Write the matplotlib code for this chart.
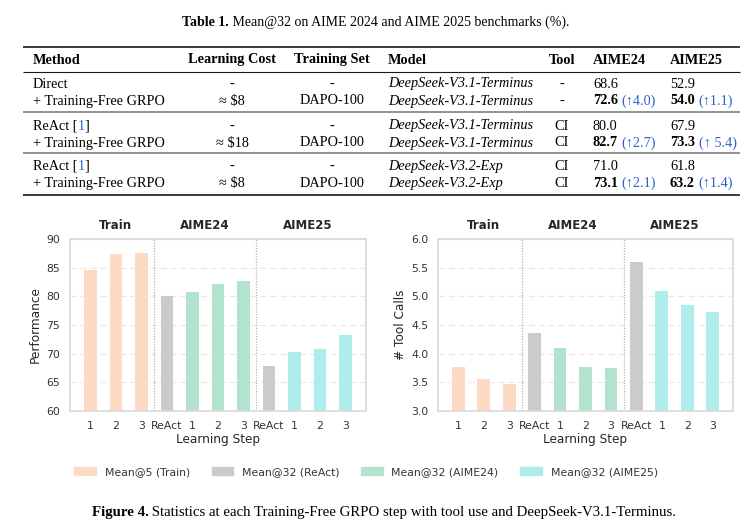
import matplotlib
matplotlib.use('Agg')
import matplotlib.pyplot as plt
import numpy as np
from matplotlib.patches import Patch

# ---------------- data ----------------
headers = ['Method', 'Learning Cost', 'Training Set', 'Model', 'Tool', 'AIME24', 'AIME25']
methods = ['Direct', '+ Training-Free GRPO', 'ReAct', '+ Training-Free GRPO', 'ReAct', '+ Training-Free GRPO']
cites = [None, None, '1', None, '1', None]
costs = ['-', '≈ $8', '-', '≈ $18', '-', '≈ $8']
train_sets = ['-', 'DAPO-100', '-', 'DAPO-100', '-', 'DAPO-100']
models = ['DeepSeek-V3.1-Terminus', 'DeepSeek-V3.1-Terminus', 'DeepSeek-V3.1-Terminus',
          'DeepSeek-V3.1-Terminus', 'DeepSeek-V3.2-Exp', 'DeepSeek-V3.2-Exp']
tools = ['-', '-', 'CI', 'CI', 'CI', 'CI']
aime24 = ['68.6', '72.6', '80.0', '82.7', '71.0', '73.1']
aime24_gain = [None, '(↑4.0)', None, '(↑2.7)', None, '(↑2.1)']
aime25 = ['52.9', '54.0', '67.9', '73.3', '61.8', '63.2']
aime25_gain = [None, '(↑1.1)', None, '(↑ 5.4)', None, '(↑1.4)']

groups = ['Train', 'AIME24', 'AIME25']
tick_labels = ['1', '2', '3', 'ReAct', '1', '2', '3', 'ReAct', '1', '2', '3']
train_perf = [84.6, 87.4, 87.6]
react_perf = [80.0, 67.9]
aime24_perf = [80.8, 82.2, 82.7]
aime25_perf = [70.3, 70.9, 73.3]
train_calls = [3.77, 3.56, 3.47]
react_calls = [4.36, 5.60]
aime24_calls = [4.10, 3.77, 3.75]
aime25_calls = [5.10, 4.85, 4.73]
legend_labels = ['Mean@5 (Train)', 'Mean@32 (ReAct)', 'Mean@32 (AIME24)', 'Mean@32 (AIME25)']

# ---------------- style ----------------
C_TRAIN, C_REACT, C_24, C_25 = '#fddac6', '#cbcbcb', '#b3e2cd', '#afeded'
SERIF = ['Liberation Serif', 'DejaVu Serif']
FS = 10.3
BLUE = '#2a62d0'
TXT = '#262626'

W, H = 753, 529
fig = plt.figure(figsize=(W / 100, H / 100), dpi=100)
bg = fig.add_axes([0, 0, 1, 1])
bg.set_xlim(0, W)
bg.set_ylim(H, 0)
bg.axis('off')


def txt(x, y, s, ha='left', **kw):
    kw.setdefault('fontsize', FS)
    kw.setdefault('family', SERIF)
    return bg.text(x, y, s, ha=ha, va='baseline', **kw)


def chain(prev, y, s, gap=0.0, **kw):
    kw.setdefault('fontsize', FS)
    kw.setdefault('family', SERIF)
    return bg.annotate(s, xy=(1, y), xycoords=(prev, 'data'), xytext=(gap, 0),
                       textcoords='offset points', ha='left', va='baseline', **kw)


# ---------------- table ----------------
t_title = [txt(188, 26, 'Table 1.', fontweight='bold', fontsize=10.0)]
t_title.append(chain(t_title[0], 26, ' Mean@32 on AIME 2024 and AIME 2025 benchmarks (%).', fontsize=10.0))

tab_l, tab_r = 23, 740
for yy, lw, c in [(47, 1.2, '#1a1a1a'), (72, 0.8, '#1a1a1a'), (112, 1.3, '#8a8a8a'),
                  (153, 1.3, '#8a8a8a'), (195, 1.2, '#1a1a1a')]:
    bg.plot([tab_l, tab_r], [yy, yy], color=c, lw=lw, solid_capstyle='butt')

col_x = [33, 232, 332, 388, 562, 593, 670]
col_ha = ['left', 'center', 'center', 'left', 'center', 'left', 'left']
hy = 63.5
for h, x, ha in zip(headers, col_x, col_ha):
    txt(x, hy, h, ha=ha, fontweight='bold')

row_y = [87.5, 104.5, 129.5, 146.5, 170, 187]
for i, y in enumerate(row_y):
    t = txt(col_x[0], y, methods[i] + (' [' if cites[i] else ''))
    if cites[i]:
        t2 = chain(t, y, cites[i], color=BLUE)
        chain(t2, y, ']')
    txt(col_x[1], y, costs[i], ha='center')
    txt(col_x[2], y, train_sets[i], ha='center')
    txt(col_x[3], y, models[i], style='italic')
    txt(col_x[4], y, tools[i], ha='center')
    bold = 'bold' if aime24_gain[i] else 'normal'
    a = txt(col_x[5], y, aime24[i], fontweight=bold)
    if aime24_gain[i]:
        chain(a, y, aime24_gain[i], gap=2.6, color=BLUE)
    b = txt(col_x[6], y, aime25[i], fontweight=bold)
    if aime25_gain[i]:
        chain(b, y, aime25_gain[i], gap=2.6, color=BLUE)

# ---------------- charts ----------------
perf = train_perf + [react_perf[0]] + aime24_perf + [react_perf[1]] + aime25_perf
calls = train_calls + [react_calls[0]] + aime24_calls + [react_calls[1]] + aime25_calls
colors = ([C_TRAIN] * len(train_perf) + [C_REACT] + [C_24] * len(aime24_perf)
          + [C_REACT] + [C_25] * len(aime25_perf))
group_sizes = [len(train_perf), 1 + len(aime24_perf), 1 + len(aime25_perf)]


def panel(ax, vals, ylim, ystep, ylabel, fmt):
    x = np.arange(len(vals))
    ax.bar(x, vals, width=0.5, color=colors, zorder=2)
    ax.set_xlim(-0.8, len(vals) - 0.2)
    ax.set_ylim(*ylim)
    ax.set_yticks(np.arange(ylim[0], ylim[1] + ystep / 2, ystep))
    ax.yaxis.set_major_formatter(matplotlib.ticker.FormatStrFormatter(fmt))
    ax.set_xticks(x)
    ax.set_xticklabels(tick_labels)
    ax.set_axisbelow(True)
    ax.yaxis.grid(True, ls=(0, (5, 3)), color='#e8e8e8', lw=0.9)
    for s in ax.spines.values():
        s.set_color('#d9d9d9')
        s.set_linewidth(1.2)
    ax.tick_params(length=0, pad=7, labelsize=7.8, labelcolor='#333333')
    ax.set_xlabel('Learning Step', fontsize=8.7, color=TXT, labelpad=2)
    ax.set_ylabel(ylabel, fontsize=8.7, color=TXT, labelpad=3)
    start = 0
    for gi, (g, n) in enumerate(zip(groups, group_sizes)):
        center = start + (n - 1) / 2
        ax.annotate(g, xy=(center, 1), xycoords=('data', 'axes fraction'), xytext=(0, 9.4),
                    textcoords='offset points', ha='center', va='center',
                    fontweight='bold', fontsize=8.5, color=TXT)
        start += n
        if gi < len(groups) - 1:
            ax.axvline(start - 0.5, color='#b5b5b5', ls=(0, (1, 1.2)), lw=0.9, zorder=1)


ax1 = fig.add_axes([70 / W, 1 - 411 / H, 296 / W, 172 / H])
ax2 = fig.add_axes([438 / W, 1 - 411 / H, 295 / W, 172 / H])
panel(ax1, perf, (60, 90), 5, 'Performance', '%d')
panel(ax2, calls, (3.0, 6.0), 0.5, '# Tool Calls', '%.1f')

handles = [Patch(color=c) for c in [C_TRAIN, C_REACT, C_24, C_25]]
fig.legend(handles, legend_labels, ncol=4, loc='center', bbox_to_anchor=(366 / W, 1 - 472 / H),
           frameon=False, fontsize=7.8, handlelength=2.0, handleheight=0.7,
           columnspacing=2.0, handletextpad=0.8, labelcolor='#333333')

cap = [txt(92, 516, 'Figure 4.', fontweight='bold', fontsize=10.75)]
cap.append(chain(cap[0], 516, ' Statistics at each Training-Free GRPO step with tool use and DeepSeek-V3.1-Terminus.',
                 fontsize=10.75))


def center_chain(texts, cx):
    fig.canvas.draw()
    r = fig.canvas.get_renderer()
    x0 = texts[0].get_window_extent(r).x0
    x1 = texts[-1].get_window_extent(r).x1
    px, py = texts[0].get_position()
    texts[0].set_position((px + cx - (x0 + x1) / 2, py))


center_chain(t_title, 376)
center_chain(cap, 384)

fig.savefig('out.png', dpi=100)
